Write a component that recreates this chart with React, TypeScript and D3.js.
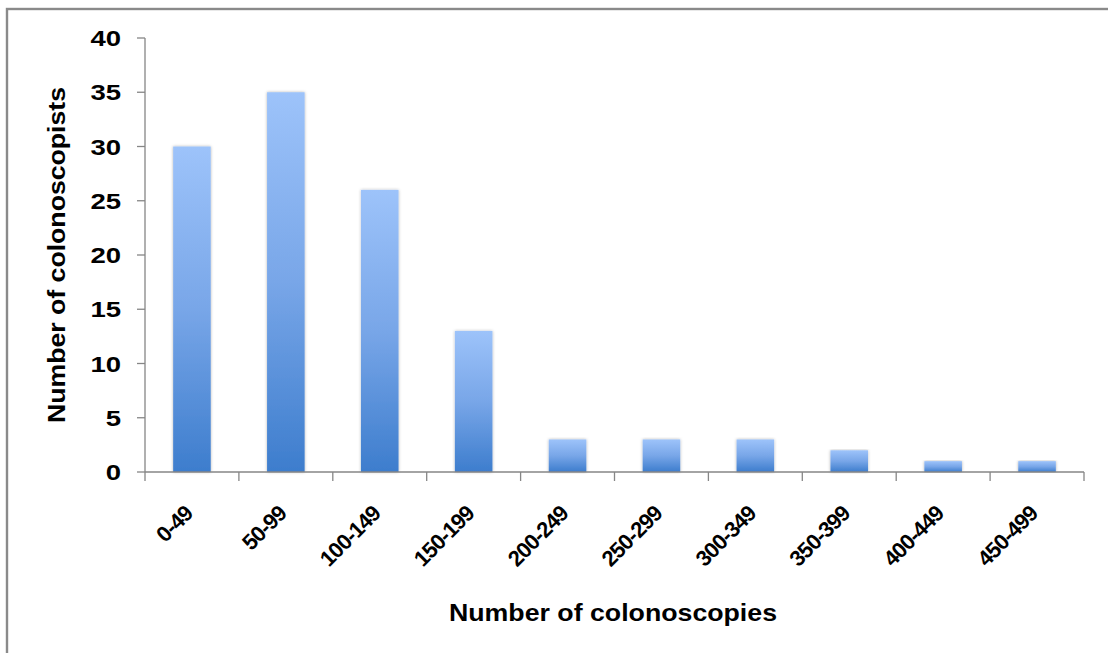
import * as d3 from "d3";

const categories = [
  "0-49",
  "50-99",
  "100-149",
  "150-199",
  "200-249",
  "250-299",
  "300-349",
  "350-399",
  "400-449",
  "450-499",
];
const counts = [30, 35, 26, 13, 3, 3, 3, 2, 1, 1];
const yTicks = [0, 5, 10, 15, 20, 25, 30, 35, 40];

const xTitle = "Number of colonoscopies";
const yTitle = "Number of colonoscopists";

export default function App() {
  const width = 1108;
  const height = 653;
  const left = 145;
  const right = 1084;
  const top = 38;
  const bottom = 472;
  const font = "'Liberation Sans', Arial, sans-serif";

  const x = d3
    .scaleBand()
    .domain(categories)
    .range([left, right])
    .paddingInner(0.6)
    .paddingOuter(0.3);
  const y = d3.scaleLinear().domain([0, 40]).range([bottom, top]);
  const step = x.step();
  const bandStart = (i: number) => left + i * step;

  return (
    <svg
      width={width}
      height={height}
      style={{ position: "absolute", left: 0, top: 0, background: "#fff" }}
    >
      <defs>
        <linearGradient id="barFill" x1="0" y1="0" x2="0" y2="1">
          <stop offset="0%" stopColor="#9dc3fa" />
          <stop offset="50%" stopColor="#78a6e8" />
          <stop offset="100%" stopColor="#3d7dcd" />
        </linearGradient>
        <filter id="barShadow" x="-20%" y="-5%" width="140%" height="110%">
          <feDropShadow dx="0" dy="0" stdDeviation="1.4" floodColor="#000" floodOpacity="0.3" />
        </filter>
      </defs>

      {/* chart frame */}
      <rect x={7} y={9} width={1300} height={900} fill="none" stroke="#8a8a8a" strokeWidth={2.4} />

      {/* bars */}
      {categories.map((c, i) => (
        <rect
          key={c}
          x={x(c) ?? 0}
          y={y(counts[i])}
          width={x.bandwidth()}
          height={bottom - y(counts[i])}
          fill="url(#barFill)"
          filter="url(#barShadow)"
        />
      ))}

      {/* y axis */}
      <line x1={left} x2={left} y1={top} y2={bottom} stroke="#868686" strokeWidth={1.3} />
      {yTicks.map((t) => (
        <g key={t} transform={`translate(0, ${y(t)})`}>
          <line x1={left - 8} x2={left} stroke="#868686" strokeWidth={1.3} />
          <text
            transform="translate(121, 8) scale(1.25, 1)"
            textAnchor="end"
            fontFamily={font}
            fontWeight="bold"
            fontSize={22}
            fill="#000"
          >
            {t}
          </text>
        </g>
      ))}

      {/* x axis */}
      <line x1={left} x2={right} y1={bottom} y2={bottom} stroke="#868686" strokeWidth={1.3} />
      {d3.range(categories.length + 1).map((i) => (
        <line
          key={i}
          x1={bandStart(i)}
          x2={bandStart(i)}
          y1={bottom}
          y2={bottom + 9}
          stroke="#868686"
          strokeWidth={1.3}
        />
      ))}
      {categories.map((c) => {
        const cx = (x(c) ?? 0) + x.bandwidth() / 2;
        return (
          <text
            key={c}
            transform={`translate(${cx + 2}, ${bottom + 43}) rotate(-45)`}
            textAnchor="end"
            fontFamily={font}
            fontWeight="bold"
            fontSize={22}
            letterSpacing={-0.9}
            fill="#000"
          >
            {c}
          </text>
        );
      })}

      {/* axis titles */}
      <text
        x={613}
        y={621}
        textAnchor="middle"
        fontFamily={font}
        fontWeight="bold"
        fontSize={24}
        textLength={328}
        lengthAdjust="spacingAndGlyphs"
        fill="#000"
      >
        {xTitle}
      </text>
      <text
        transform={`translate(65, 255) rotate(-90)`}
        textAnchor="middle"
        fontFamily={font}
        fontWeight="bold"
        fontSize={24}
        textLength={336}
        lengthAdjust="spacingAndGlyphs"
        fill="#000"
      >
        {yTitle}
      </text>
    </svg>
  );
}
